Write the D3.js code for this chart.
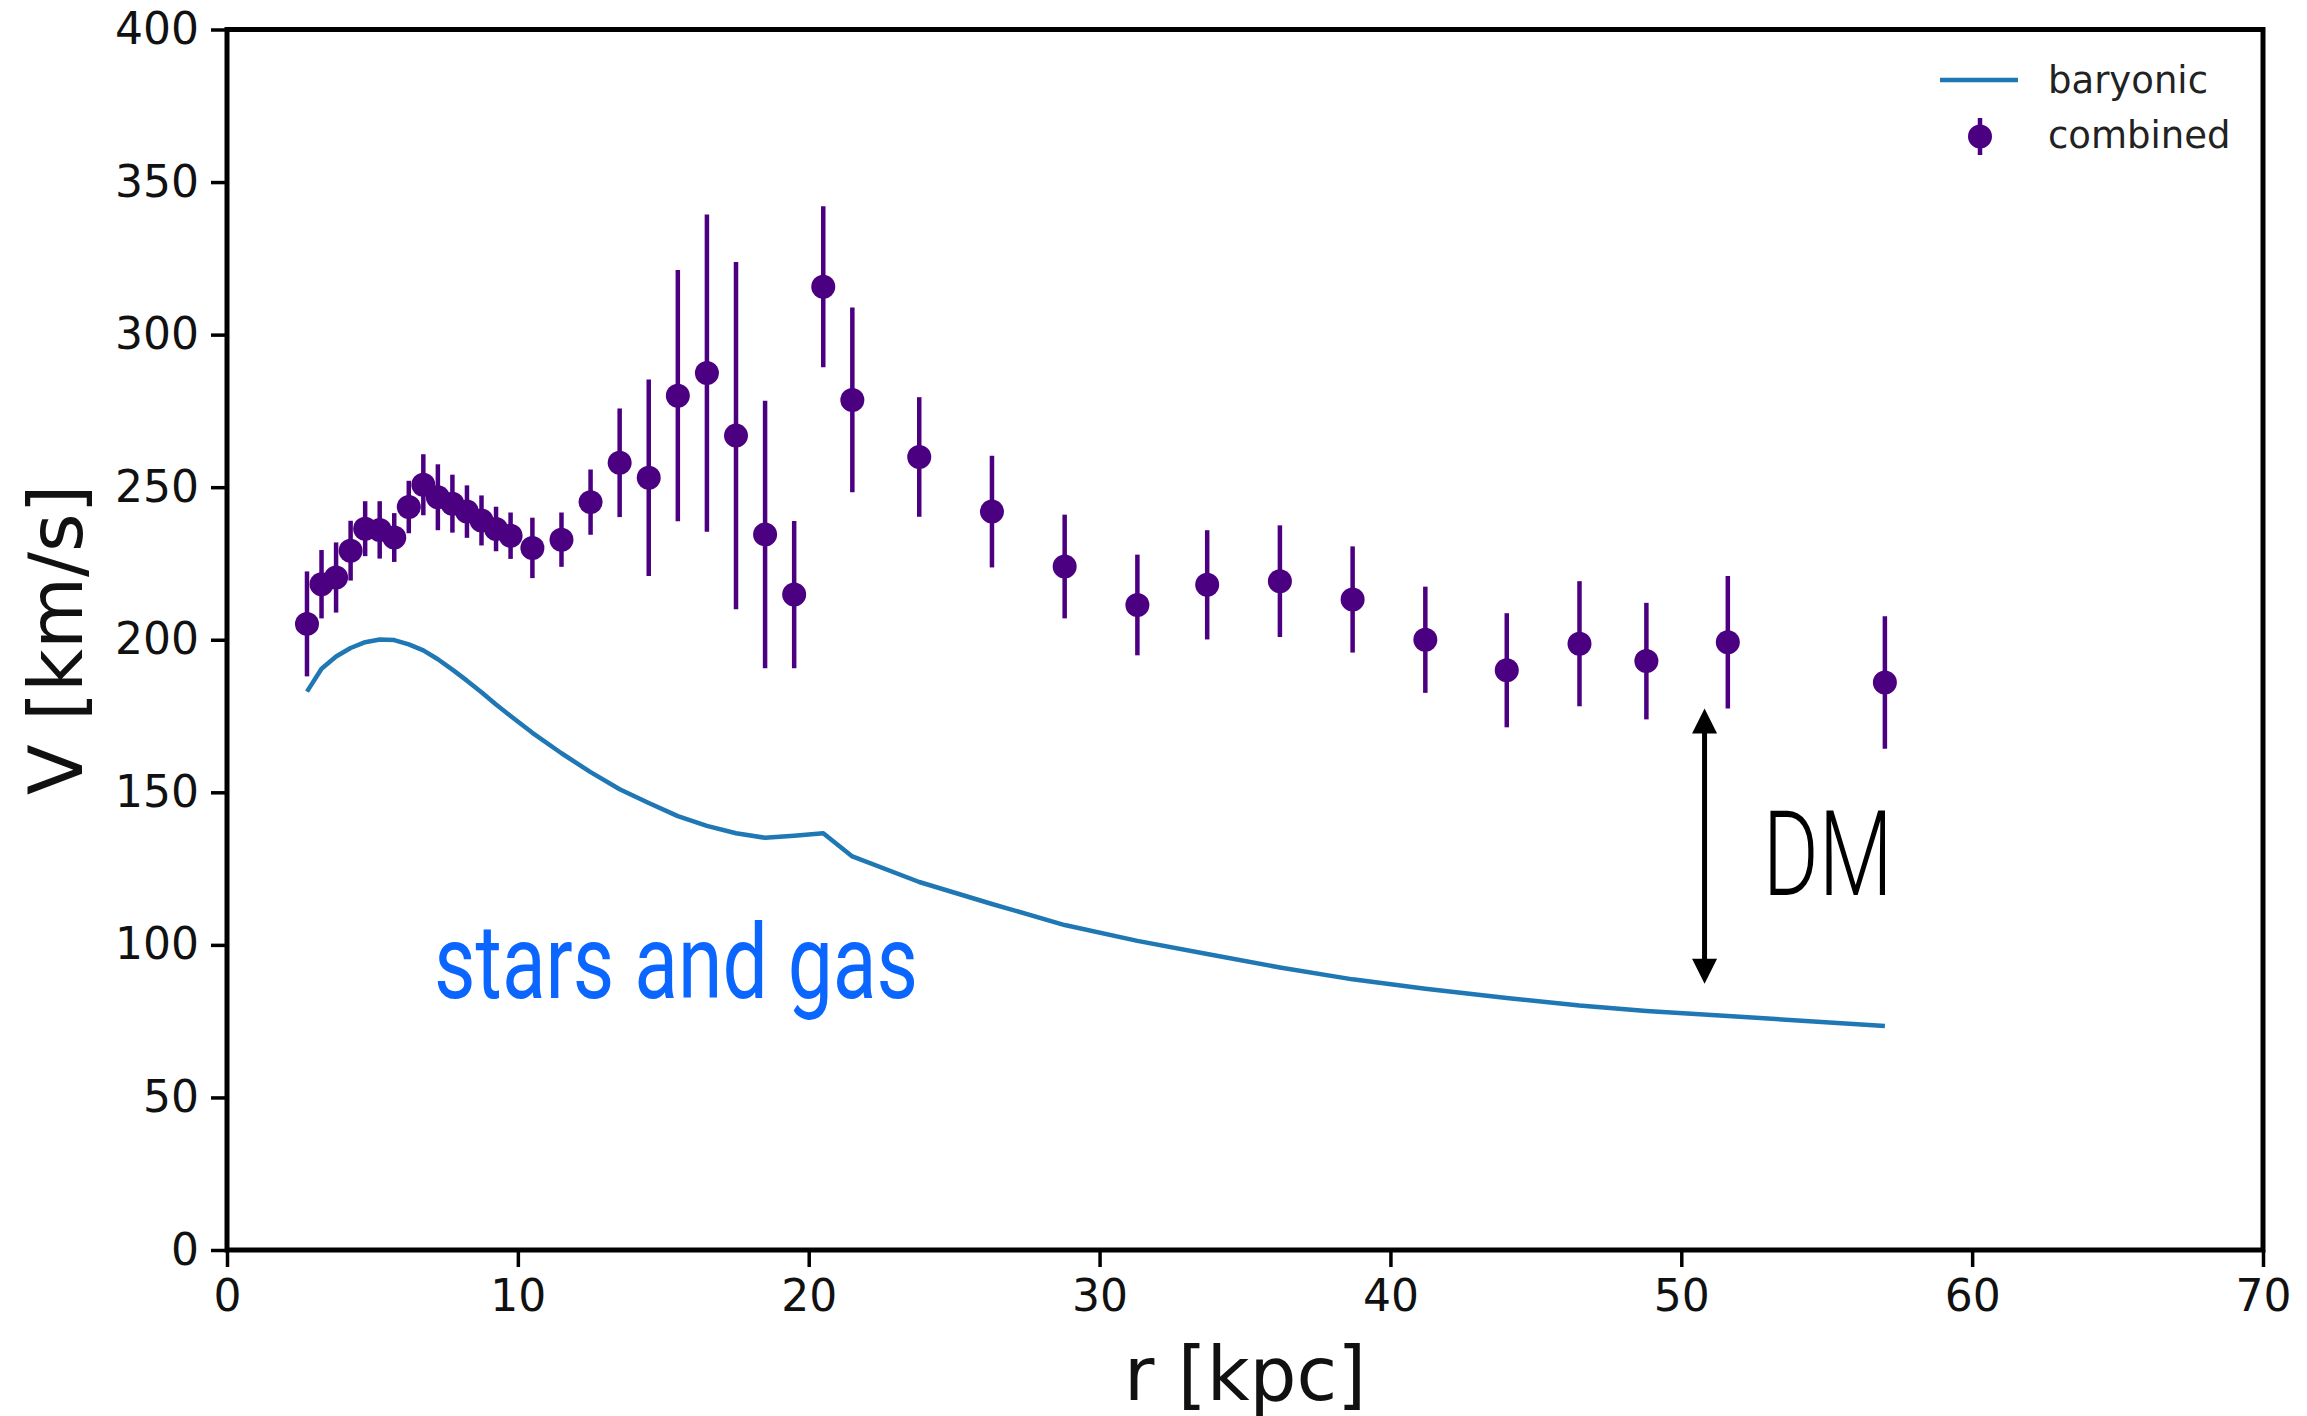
<!DOCTYPE html>
<html>
<head>
<meta charset="utf-8">
<script src="https://cdn.jsdelivr.net/npm/d3@7"></script>
<style>
    body { margin: 0; background: #fff; }
    svg { display: block; }
</style>
</head>
<body>
<div id="chart-container"></div>
<script>
// radii of the measured points (kpc)
const radii = [2.75, 3.25, 3.75, 4.25, 4.75, 5.25, 5.75, 6.25, 6.75, 7.25, 7.75, 8.25, 8.75, 9.25, 9.75,
    10.5, 11.5, 12.5, 13.5, 14.5, 15.5, 16.5, 17.5, 18.5, 19.5, 20.5, 21.5,
    23.8, 26.3, 28.8, 31.3, 33.7, 36.2, 38.7, 41.2, 44.0, 46.5, 48.8, 51.6, 57.0];

// combined rotation velocity and its error (km/s)
const vCombined = [205.2, 218.2, 220.4, 229.2, 236.4, 236.0, 233.5, 243.5, 250.8, 246.7, 244.6, 242.0, 239.1, 236.3, 234.1,
    230.1, 232.8, 245.1, 258.0, 253.1, 280.0, 287.4, 266.9, 234.5, 214.8, 315.7, 278.6,
    259.9, 242.0, 224.0, 211.4, 218.0, 219.2, 213.2, 200.0, 190.0, 198.7, 193.0, 199.2, 186.0];
const vError = [17.2, 11.2, 11.5, 9.8, 9.0, 9.4, 8.0, 8.6, 10.0, 10.8, 9.5, 8.6, 8.2, 7.3, 7.6,
    9.9, 8.9, 10.7, 17.8, 32.2, 41.2, 52.0, 56.9, 43.8, 24.1, 26.4, 30.3,
    19.6, 18.3, 17.0, 16.5, 17.9, 18.3, 17.4, 17.4, 18.7, 20.5, 19.1, 21.7, 21.7];

// baryonic (stars and gas) model at the same radii (km/s)
const vBaryonic = [183.0, 190.5, 194.5, 197.3, 199.2, 200.1, 199.9, 198.5, 196.5, 193.6, 190.2, 186.6, 182.8, 178.8, 175.0,
    169.5, 162.8, 156.6, 151.0, 146.5, 142.2, 139.0, 136.6, 135.1, 135.8, 136.6, 129.0,
    120.6, 113.4, 106.5, 101.3, 97.0, 92.6, 88.7, 85.6, 82.6, 80.1, 78.3, 76.7, 73.4];

const xTicks = [0, 10, 20, 30, 40, 50, 60, 70];
const yTicks = [0, 50, 100, 150, 200, 250, 300, 350, 400];
const legendLabels = ["baryonic", "combined"];

const width = 2307;
const height = 1416;
const margin = { top: 29.5, right: 44, bottom: 166, left: 227 };

const lineColor = "#1f77b4";
const pointColor = "#4b0082";
const font = "'DejaVu Sans', sans-serif";

const svg = d3.select("#chart-container")
    .append("svg")
    .attr("width", width)
    .attr("height", height)
    .style("background", "#fff");

const xScale = d3.scaleLinear()
    .domain([0, 70])
    .range([margin.left, width - margin.right]);

const yScale = d3.scaleLinear()
    .domain([0, 400])
    .range([height - margin.bottom, margin.top]);

// baryonic curve
const line = d3.line()
    .x((d, i) => xScale(radii[i]))
    .y(d => yScale(d));

svg.append("path")
    .datum(vBaryonic)
    .attr("d", line)
    .attr("fill", "none")
    .attr("stroke", lineColor)
    .attr("stroke-width", 4.5)
    .attr("stroke-linejoin", "round");

// error bars
svg.selectAll("line.err")
    .data(radii)
    .enter()
    .append("line")
    .attr("class", "err")
    .attr("x1", d => xScale(d))
    .attr("x2", d => xScale(d))
    .attr("y1", (d, i) => yScale(vCombined[i] + vError[i]))
    .attr("y2", (d, i) => yScale(vCombined[i] - vError[i]))
    .attr("stroke", pointColor)
    .attr("stroke-width", 4.5);

// points
svg.selectAll("circle.pt")
    .data(radii)
    .enter()
    .append("circle")
    .attr("class", "pt")
    .attr("cx", d => xScale(d))
    .attr("cy", (d, i) => yScale(vCombined[i]))
    .attr("r", 12)
    .attr("fill", pointColor);

// axes
const xAxis = d3.axisBottom(xScale)
    .tickValues(xTicks)
    .tickSize(17)
    .tickSizeOuter(0)
    .tickPadding(13);

const yAxis = d3.axisLeft(yScale)
    .tickValues(yTicks)
    .tickSize(16)
    .tickSizeOuter(0)
    .tickPadding(12);

const gx = svg.append("g")
    .attr("transform", `translate(0, ${height - margin.bottom})`)
    .call(xAxis);

const gy = svg.append("g")
    .attr("transform", `translate(${margin.left}, 0)`)
    .call(yAxis);

[gx, gy].forEach(g => {
    g.select(".domain").remove();
    g.selectAll(".tick line").attr("stroke", "#000").attr("stroke-width", 3.5);
    g.selectAll(".tick text")
        .attr("fill", "#111")
        .style("font-family", font)
        .style("font-size", "44px");
});

// frame
svg.append("rect")
    .attr("x", margin.left)
    .attr("y", margin.top)
    .attr("width", width - margin.right - margin.left)
    .attr("height", height - margin.bottom - margin.top)
    .attr("fill", "none")
    .attr("stroke", "#000")
    .attr("stroke-width", 5);

// axis titles
svg.append("text")
    .attr("x", (margin.left + width - margin.right) / 2)
    .attr("y", 1400)
    .attr("text-anchor", "middle")
    .style("font-family", font)
    .style("font-size", "74px")
    .attr("fill", "#111")
    .text("r [kpc]");

svg.append("text")
    .attr("transform", `translate(82, ${(margin.top + height - margin.bottom) / 2}) rotate(-90)`)
    .attr("text-anchor", "middle")
    .style("font-family", font)
    .style("font-size", "74px")
    .attr("fill", "#111")
    .text("V [km/s]");

// legend
const legend = svg.append("g");
legend.append("line")
    .attr("x1", 1940).attr("x2", 2018)
    .attr("y1", 80).attr("y2", 80)
    .attr("stroke", lineColor)
    .attr("stroke-width", 4.5);
legend.append("line")
    .attr("x1", 1980).attr("x2", 1980)
    .attr("y1", 118).attr("y2", 155)
    .attr("stroke", pointColor)
    .attr("stroke-width", 4.5);
legend.append("circle")
    .attr("cx", 1980).attr("cy", 136.5)
    .attr("r", 12)
    .attr("fill", pointColor);
legend.selectAll("text")
    .data(legendLabels)
    .enter()
    .append("text")
    .attr("x", 2048)
    .attr("y", (d, i) => 93 + i * 55)
    .style("font-family", font)
    .style("font-size", "37px")
    .attr("fill", "#222")
    .text(d => d);

// annotations
svg.append("text")
    .attr("x", xScale(7.12))
    .attr("y", yScale(82.6))
    .attr("textLength", 484)
    .attr("lengthAdjust", "spacingAndGlyphs")
    .style("font-family", "Roboto, sans-serif")
    .style("font-size", "104px")
    .attr("fill", "#0a66ff")
    .text("stars and gas");

const arrowR = 50.8, arrowFrom = 87.3, arrowTo = 177.5;
const ax = xScale(arrowR);
svg.append("line")
    .attr("x1", ax).attr("x2", ax)
    .attr("y1", yScale(arrowTo) + 20)
    .attr("y2", yScale(arrowFrom) - 20)
    .attr("stroke", "#000")
    .attr("stroke-width", 5);
svg.append("path")
    .attr("d", `M${ax},${yScale(arrowTo)} l-12.5,25 l25,0 Z`)
    .attr("fill", "#000");
svg.append("path")
    .attr("d", `M${ax},${yScale(arrowFrom)} l-12.5,-25 l25,0 Z`)
    .attr("fill", "#000");

svg.append("text")
    .attr("x", xScale(52.8))
    .attr("y", yScale(116.3))
    .attr("textLength", 130)
    .attr("lengthAdjust", "spacingAndGlyphs")
    .style("font-family", "Roboto, sans-serif")
    .style("font-weight", 300)
    .style("font-size", "118px")
    .attr("fill", "#000")
    .text("DM");
</script>
</body>
</html>
